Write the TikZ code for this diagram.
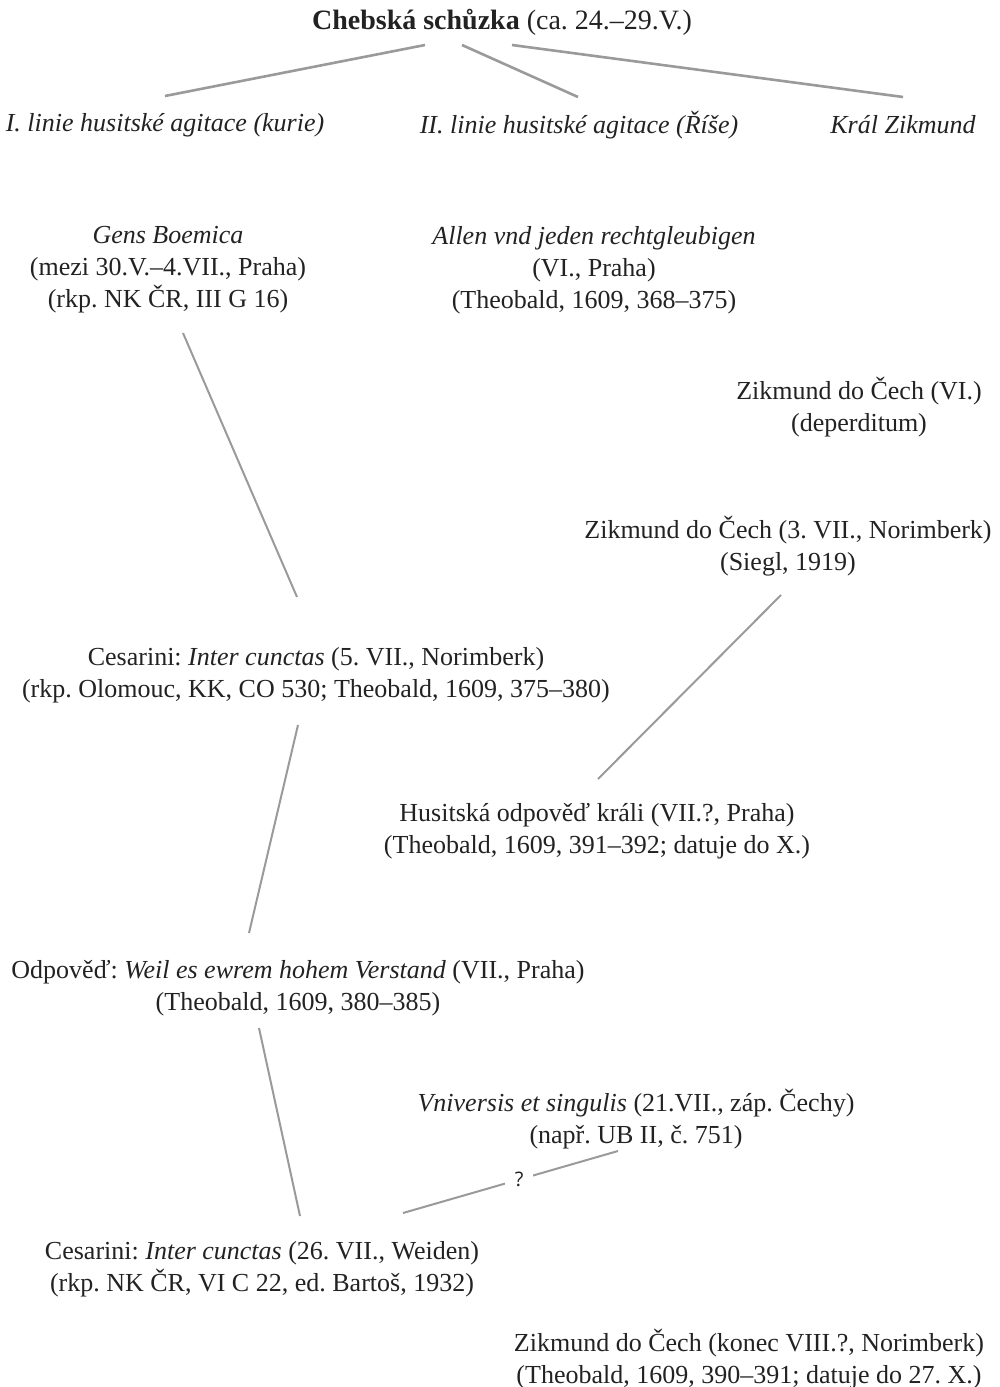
\documentclass[tikz,border=0pt]{standalone}
\usepackage{fontspec}
\setmainfont{Liberation Serif}
\newfontfamily\qfont{Open Sans}
\usetikzlibrary{calc}
\definecolor{linegray}{HTML}{9A9A9A}
\definecolor{txt}{HTML}{222222}
\tikzset{
  lbl/.style={align=center, inner sep=0pt, text=txt, font=\fontsize{26}{32}\selectfont},
  ttl/.style={lbl, font=\fontsize{28}{32}\selectfont},
  conn/.style={draw=linegray, line width=2pt},
  topconn/.style={conn, line width=2.6pt},
  qmark/.style={fill=white, inner xsep=10pt, inner ysep=3pt, text=txt, font=\qfont\fontsize{20}{22}\selectfont},
}
\begin{document}
\frenchspacing
\begin{tikzpicture}[x=1pt,y=-1pt]
\useasboundingbox (0,0) rectangle (999,1387);
\node[ttl] (title) at (502,22) {\textbf{Chebská schůzka} (ca. 24.–29.V.)};
\node[lbl] (k1) at (165,125) {\textit{I. linie husitské agitace (kurie)}};
\node[lbl] (k2) at (579,125) {\textit{II. linie husitské agitace (Říše)}};
\node[lbl] (k3) at (903,125) {\textit{Král Zikmund}};
\node[lbl] (gens) at (168,270) {\textit{Gens Boemica}\\(mezi 30.V.–4.VII., Praha)\\(rkp. NK ČR, III G 16)};
\node[lbl] (allen) at (594,270) {\textit{Allen vnd jeden rechtgleubigen}\\(VI., Praha)\\(Theobald, 1609, 368–375)};
\node[lbl] (zik1) at (859,407) {Zikmund do Čech (VI.)\\(deperditum)};
\node[lbl] (zik2) at (788,546) {Zikmund do Čech (3. VII., Norimberk)\\(Siegl, 1919)};
\node[lbl] (ces1) at (316,675) {Cesarini: \textit{Inter cunctas} (5. VII., Norimberk)\\(rkp. Olomouc, KK, CO 530; Theobald, 1609, 375–380)};
\node[lbl] (hus) at (597,831) {Husitská odpověď králi (VII.?, Praha)\\(Theobald, 1609, 391–392; datuje do X.)};
\node[lbl] (odp) at (298,988) {Odpověď: \textit{Weil es ewrem hohem Verstand} (VII., Praha)\\(Theobald, 1609, 380–385)};
\node[lbl] (univ) at (636,1119) {\textit{Vniversis et singulis} (21.VII., záp. Čechy)\\(např. UB II, č. 751)};
\node[lbl] (ces2) at (262,1269) {Cesarini: \textit{Inter cunctas} (26. VII., Weiden)\\(rkp. NK ČR, VI C 22, ed. Bartoš, 1932)};
\node[lbl] (zik3) at (749,1359) {Zikmund do Čech (konec VIII.?, Norimberk)\\(Theobald, 1609, 390–391; datuje do 27. X.)};
\draw[topconn] ($(title)+(-77,23)$) -- ($(k1)+(0,-29)$);
\draw[topconn] ($(title)+(-40,23)$) -- ($(k2)+(-1,-28)$);
\draw[topconn] ($(title)+(10,23)$) -- ($(k3)+(0,-28)$);
\draw[conn] ($(gens)+(15,63)$) -- ($(ces1)+(-19,-78)$);
\draw[conn] ($(zik2)+(-7,49)$) -- ($(hus)+(1,-52)$);
\draw[conn] ($(ces1)+(-18,50)$) -- ($(odp)+(-49,-55)$);
\draw[conn] ($(odp)+(-39,40)$) -- ($(ces2)+(38,-53)$);
\draw[conn] ($(ces2)+(141,-56)$) -- node[qmark, pos=0.54] {?} ($(univ)+(-18,32)$);
\end{tikzpicture}
\end{document}
